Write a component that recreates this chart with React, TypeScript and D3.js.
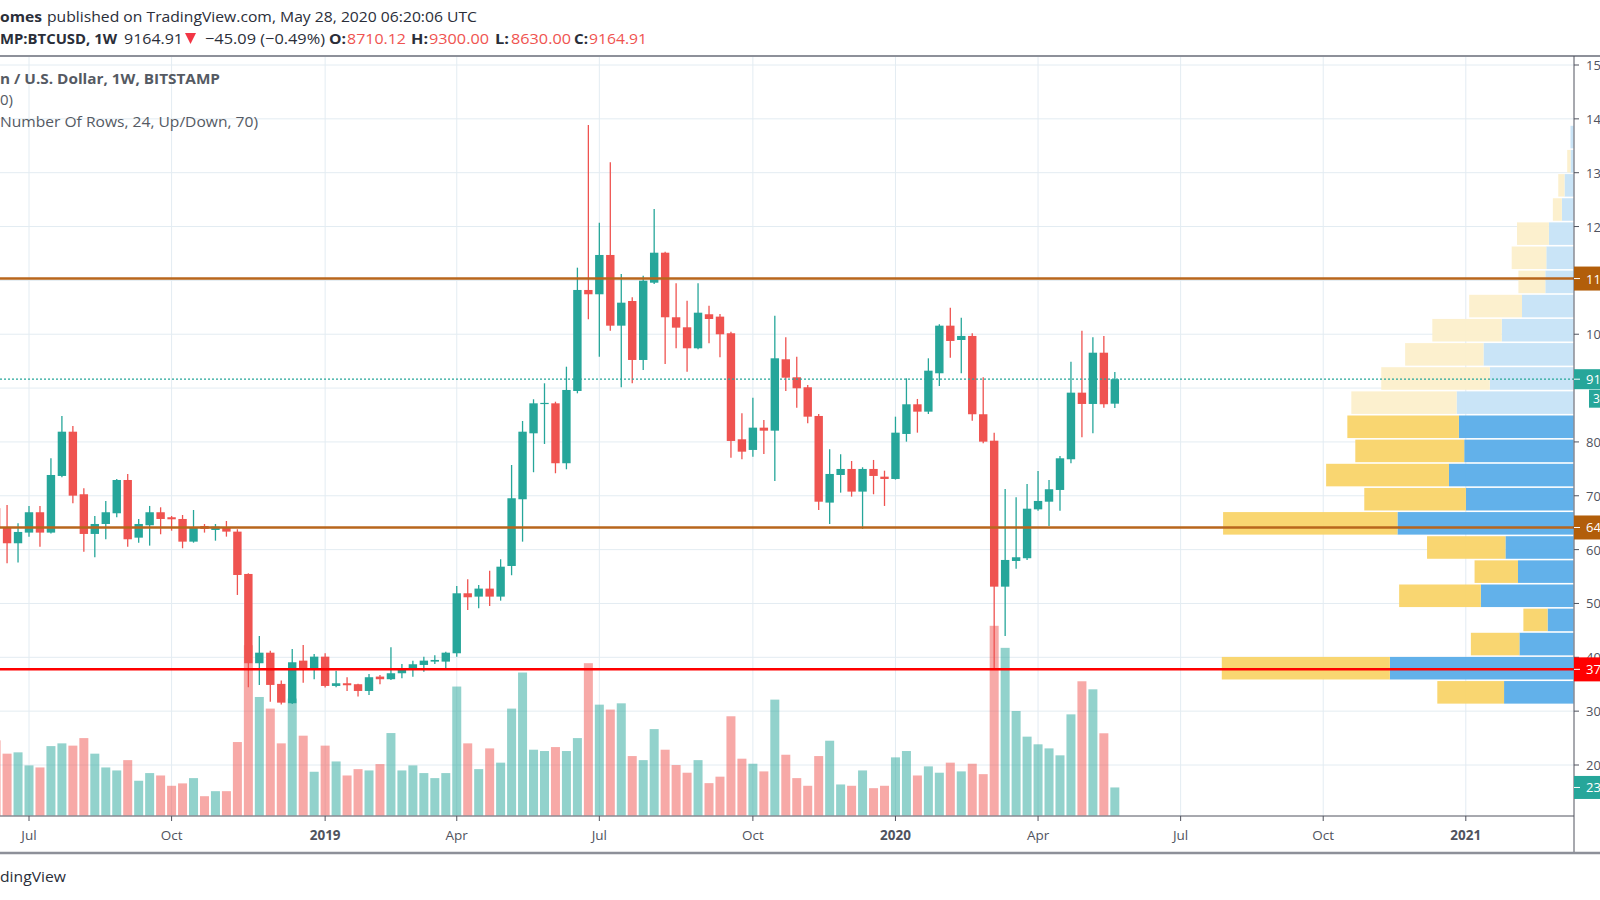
import React from 'react';
import * as d3 from 'd3';

// ---------- DATA ----------
const FIRST_WEEK = Date.UTC(2018, 5, 11); // Monday of first visible weekly bar

const opens = [
  6770, 6410, 6118, 6316, 6694, 6316, 7368, 8190, 7028, 6291, 6476, 6675, 7293, 6222, 6452, 6694,
  6601, 6569, 6148, 6439, 6365, 6408, 6334, 5548, 3890, 4086, 3506, 3147, 3938, 3797, 4012, 3468,
  3518, 3500, 3375, 3642, 3593, 3704, 3765, 3858, 3920, 3920, 4075, 5189, 5127, 5276, 5127, 5696,
  6935, 8160, 8705, 8717, 7604, 8946, 10822, 10742, 11472, 10159, 10617, 9522, 10957, 11514, 10315, 10129,
  9739, 10371, 10327, 10018, 8049, 7851, 8265, 8209, 9535, 9200, 9015, 8482, 6873, 7386, 7498, 7077,
  7498, 7355, 7312, 8148, 8699, 8562, 9275, 10159, 9893, 9968, 8514, 8023, 5312, 5789, 5840, 6748,
  6890, 7108, 7678, 8915, 8705, 9657, 8710.12,
];
const highs = [
  6850, 6829, 6489, 6811, 6811, 7696, 8482, 8296, 7139, 6625, 6904, 7312, 7405, 6569, 6811, 6786,
  6625, 6643, 6736, 6476, 6476, 6532, 6378, 5560, 4397, 4124, 3567, 4155, 4229, 4062, 4075, 3752,
  3630, 3510, 3691, 3672, 4187, 3877, 3938, 4012, 4038, 4105, 5325, 5450, 5344, 5609, 5821, 7572,
  8389, 8792, 9089, 8747, 9397, 11236, 13886, 12072, 13193, 11119, 10686, 11087, 12326, 11533, 10946, 10623,
  10946, 10530, 10376, 10047, 8532, 8822, 8408, 10345, 9943, 9583, 9058, 8519, 7864, 7771, 7646, 7529,
  7665, 7466, 8469, 9182, 8798, 9553, 10185, 10493, 10307, 10018, 9201, 8172, 7126, 6972, 7219, 7461,
  7293, 7739, 9490, 10066, 9943, 9968, 9300,
];
const lows = [
  6300, 5747, 5760, 6241, 6055, 6300, 7344, 6861, 5962, 5858, 6192, 6601, 6055, 6129, 6074, 6285,
  6352, 6025, 6129, 6316, 6166, 6241, 5158, 3444, 3487, 3176, 3125, 3134, 3529, 3593, 3437, 3444,
  3375, 3270, 3301, 3500, 3580, 3611, 3641, 3734, 3877, 3796, 4012, 4879, 4911, 4954, 5052, 5524,
  6148, 7437, 7962, 7418, 7492, 8903, 10278, 9583, 10066, 9015, 9089, 9336, 10933, 9448, 9739, 9305,
  9720, 9832, 9572, 7708, 7678, 7726, 7776, 7275, 8946, 8636, 8346, 6736, 6476, 7058, 6984, 6383,
  7028, 6811, 7300, 8005, 8172, 8519, 9039, 9565, 9275, 8395, 7975, 3800, 4397, 5646, 5808, 6723,
  6439, 6723, 7604, 8087, 8161, 8636, 8630,
];
const closes = [
  6420, 6118, 6328, 6694, 6316, 7386, 8190, 7002, 6291, 6476, 6694, 7293, 6192, 6476, 6694, 6569,
  6563, 6148, 6408, 6384, 6427, 6334, 5529, 3890, 4086, 3487, 3158, 3908, 3778, 4012, 3468, 3518,
  3481, 3375, 3630, 3593, 3704, 3778, 3871, 3938, 3951, 4086, 5189, 5115, 5276, 5127, 5683, 6954,
  8190, 8717, 8725, 7604, 8965, 10822, 10742, 11472, 10159, 10586, 9522, 10994, 11514, 10315, 10122, 9739,
  10400, 10283, 9999, 8018, 7819, 8265, 8209, 9553, 9193, 8996, 8469, 6890, 7405, 7498, 7077, 7498,
  7368, 7312, 8172, 8699, 8562, 9323, 10159, 9875, 9968, 8514, 8005, 5312, 5808, 5858, 6760, 6904,
  7121, 7696, 8915, 8705, 9657, 8700, 9164.91,
];
// weekly volume, thousands of BTC
const volumes = [
  62.7, 51.6, 52.7, 41.8, 40.1, 57.9, 60.2, 58.3, 64.6, 51.6, 40.1, 37.6, 46.2, 29.0, 35.4, 33.4,
  24.8, 26.8, 31.2, 16.1, 20.3, 20.3, 61.3, 142.1, 98.9, 89.2, 60.2, 97.6, 66.6, 36.5, 58.3, 45.1,
  33.4, 38.7, 37.6, 42.9, 68.8, 37.6, 41.8, 35.4, 31.2, 35.4, 107.6, 60.2, 38.7, 56.0, 44.1, 89.2,
  119.3, 54.9, 53.8, 57.1, 53.8, 64.6, 127.1, 92.5, 88.4, 93.6, 49.6, 46.2, 72.1, 54.9, 42.1, 35.7,
  46.2, 27.0, 32.4, 82.8, 47.4, 43.2, 36.8, 96.7, 50.7, 31.2, 24.8, 49.6, 62.4, 25.9, 24.8, 37.6,
  22.8, 24.8, 48.5, 53.8, 33.4, 41.0, 35.7, 44.1, 36.8, 43.2, 34.5, 158.3, 139.9, 87.2, 65.8, 59.4,
  56.0, 50.2, 84.4, 112.0, 105.3, 68.6, 23.4,
];

// Volume profile (24 rows, bottom -> top)
const vpUp = [69.7, 184.3, 54.3, 26, 93, 55.7, 68.3, 176.7, 108, 125, 109.7, 115, 117.3, 84, 90.3, 72, 51.7, 28.3, 27.3, 24.7, 11.7, 9, 3, 3];
const vpDown = [67, 168.7, 48.7, 24.3, 82, 43.6, 78.7, 175, 102, 123.3, 109.3, 112, 105.7, 109, 78.7, 69.7, 53, 27, 34.7, 32, 9, 6.3, 3.3, 0];
const VP_ROWS = 24;
const VA_FIRST_ROW = 0;
const VA_LAST_ROW = 11;

const priceTicks = [2000, 3000, 4000, 5000, 6000, 7000, 8000, 9000, 10000, 11000, 12000, 13000, 14000, 15000];
const timeTickMonths = [[2018, 6], [2018, 9], [2019, 0], [2019, 3], [2019, 6], [2019, 9], [2020, 0], [2020, 3], [2020, 6], [2020, 9], [2021, 0]];
const timeTickLabels = ['Jul', 'Oct', '2019', 'Apr', 'Jul', 'Oct', '2020', 'Apr', 'Jul', 'Oct', '2021'];

const resistance = 11034;
const support = 6411;
const bottomLevel = 3776;
const lastPrice = 9164.91;

// ---------- STYLE ----------
const UP = '#26a69a';
const DOWN = '#ef5350';
const VOL_UP = 'rgba(38,166,154,0.5)';
const VOL_DOWN = 'rgba(239,83,80,0.5)';
const GRID = '#e3ecf2';
const AXIS_TEXT = '#50535e';
const ORANGE = '#b8661c';
const ORANGE_LABEL = '#b25e0a';
const FONT = "'Open Sans', 'Noto Sans', sans-serif";

const W = 1600;
const H = 900;
const PANE_TOP = 57;
const PANE_BOTTOM = 816;
const AXIS_X = 1574;

export default function App() {
  const dates = opens.map((_, i) => new Date(FIRST_WEEK + i * 7 * 86400000));
  const x = d3
    .scaleUtc()
    .domain([new Date(Date.UTC(2019, 11, 30)), new Date(Date.UTC(2021, 0, 4))])
    .range([884.5, 1465.8]);
  const y = d3.scaleLinear().domain([2000, 15000]).range([765, 65]);
  const vMax = d3.max(volumes) as number;
  const yv = d3.scaleLinear().domain([0, vMax]).range([815.5, 625.8]);

  const bodyW = 8.4;
  const volW = 9;

  const candles = dates.map((d, i) => ({
    d,
    o: opens[i],
    h: highs[i],
    l: lows[i],
    c: closes[i],
    v: volumes[i],
    up: closes[i] >= opens[i],
  }));

  const timeTicks = timeTickMonths.map(([yy, mm], i) => ({
    x: x(d3.utcMonday.ceil(new Date(Date.UTC(yy, mm, 1)))),
    label: timeTickLabels[i],
    bold: mm === 0,
  }));

  // volume profile geometry
  const vpLow = d3.min(lows) as number;
  const vpHigh = d3.max(highs) as number;
  const rowSize = (vpHigh - vpLow) / VP_ROWS;
  const totals = vpUp.map((u, i) => u + vpDown[i]);
  const wScale = d3.scaleLinear().domain([0, d3.max(totals) as number]).range([0, 351.7]);
  const vpRight = 1573.5;

  const fmt = d3.format('.2f');

  // axis labels fully hidden under the level/price labels are not drawn
  const coveredBy = [resistance, lastPrice];
  const visibleTicks = priceTicks.filter((p) => coveredBy.every((c) => Math.abs(y(p) - y(c)) > 10));

  const priceLabel = (price: number, fill: string, text: string, h = 24) => {
    const cy = y(price);
    return (
      <g>
        <rect x={AXIS_X} y={cy - h / 2} width={40} height={h} fill={fill} />
        <line x1={AXIS_X} x2={AXIS_X + 6} y1={cy} y2={cy} stroke="#fff" strokeWidth={1} />
        <text x={1586} y={cy} dominantBaseline="central" fontSize={13} fill="#fff" fontFamily={FONT}>
          {text}
        </text>
      </g>
    );
  };

  const lastVol = volumes[volumes.length - 1];

  return (
    <div style={{ position: 'absolute', left: 0, top: 0, width: W, height: H, background: '#fff' }}>
      <svg width={W} height={H} style={{ display: 'block' }} fontFamily={FONT}>
        <defs>
          <clipPath id="pane">
            <rect x={0} y={PANE_TOP} width={AXIS_X} height={PANE_BOTTOM - PANE_TOP} />
          </clipPath>
        </defs>
        <rect x={0} y={0} width={W} height={H} fill="#fff" />

        {/* header */}
        <text x={0} y={16} dominantBaseline="central" fontSize={15} fill="#2a2e39" fontWeight="bold" textLength={42} lengthAdjust="spacingAndGlyphs">omes</text>
        <text x={47} y={16} dominantBaseline="central" fontSize={15} fill="#2a2e39" textLength={430} lengthAdjust="spacingAndGlyphs">
          published on TradingView.com, May 28, 2020 06:20:06 UTC
        </text>
        <text x={0} y={38} dominantBaseline="central" fontSize={15} fill="#2a2e39" fontWeight="bold" textLength={117} lengthAdjust="spacingAndGlyphs">MP:BTCUSD, 1W</text>
        <text x={124} y={38} dominantBaseline="central" fontSize={15} fill="#2a2e39" textLength={59} lengthAdjust="spacingAndGlyphs">9164.91</text>
        <path d="M185,33 L196,33 L190.5,44 Z" fill="#f23645" />
        <text x={205} y={38} dominantBaseline="central" fontSize={15} fill="#2a2e39" textLength={120} lengthAdjust="spacingAndGlyphs">−45.09 (−0.49%)</text>
        <text x={329} y={38} dominantBaseline="central" fontSize={15} fill="#2a2e39" fontWeight="bold" textLength={17} lengthAdjust="spacingAndGlyphs">O:</text>
        <text x={347} y={38} dominantBaseline="central" fontSize={15} fill={DOWN} textLength={59} lengthAdjust="spacingAndGlyphs">8710.12</text>
        <text x={411} y={38} dominantBaseline="central" fontSize={15} fill="#2a2e39" fontWeight="bold" textLength={17} lengthAdjust="spacingAndGlyphs">H:</text>
        <text x={429} y={38} dominantBaseline="central" fontSize={15} fill={DOWN} textLength={60} lengthAdjust="spacingAndGlyphs">9300.00</text>
        <text x={495} y={38} dominantBaseline="central" fontSize={15} fill="#2a2e39" fontWeight="bold" textLength={14} lengthAdjust="spacingAndGlyphs">L:</text>
        <text x={511} y={38} dominantBaseline="central" fontSize={15} fill={DOWN} textLength={60} lengthAdjust="spacingAndGlyphs">8630.00</text>
        <text x={574} y={38} dominantBaseline="central" fontSize={15} fill="#2a2e39" fontWeight="bold" textLength={14} lengthAdjust="spacingAndGlyphs">C:</text>
        <text x={589} y={38} dominantBaseline="central" fontSize={15} fill={DOWN} textLength={58} lengthAdjust="spacingAndGlyphs">9164.91</text>

        <line x1={0} x2={W} y1={56} y2={56} stroke="#8d9099" strokeWidth={2} />

        {/* grid */}
        <g clipPath="url(#pane)">
          {priceTicks.map((p) => (
            <line key={'h' + p} x1={0} x2={AXIS_X} y1={y(p)} y2={y(p)} stroke={GRID} strokeWidth={1} />
          ))}
          {timeTicks.map((t, i) => (
            <line key={'v' + i} x1={t.x} x2={t.x} y1={PANE_TOP} y2={PANE_BOTTOM} stroke={GRID} strokeWidth={1} />
          ))}
        </g>

        <g clipPath="url(#pane)">
          {/* volume */}
          {candles.map((c, i) => (
            <rect
              key={'vol' + i}
              x={x(c.d) - volW / 2}
              y={yv(c.v)}
              width={volW}
              height={yv(0) - yv(c.v)}
              fill={c.up ? VOL_UP : VOL_DOWN}
            />
          ))}

          {/* volume profile */}
          {vpUp.map((u, r) => {
            const y0 = y(vpLow + (r + 1) * rowSize);
            const y1 = y(vpLow + r * rowSize);
            const inVA = r >= VA_FIRST_ROW && r <= VA_LAST_ROW;
            const upW = wScale(u);
            const dnW = wScale(vpDown[r]);
            return (
              <g key={'vp' + r}>
                <rect x={vpRight - upW} y={y0 + 0.8} width={upW} height={y1 - y0 - 1.6} fill={inVA ? '#5aade9' : '#c6e3f7'} opacity={0.95} />
                <rect x={vpRight - upW - dnW} y={y0 + 0.8} width={dnW} height={y1 - y0 - 1.6} fill={inVA ? '#f9d469' : '#fcefcb'} opacity={0.95} />
              </g>
            );
          })}

          {/* candles */}
          {candles.map((c, i) => {
            const cx = x(c.d);
            const col = c.up ? UP : DOWN;
            const top = y(Math.max(c.o, c.c));
            const bot = y(Math.min(c.o, c.c));
            return (
              <g key={'c' + i}>
                <line x1={cx} x2={cx} y1={y(c.h)} y2={y(c.l)} stroke={col} strokeWidth={1.3} />
                <rect x={cx - bodyW / 2} y={top} width={bodyW} height={Math.max(1.2, bot - top)} fill={col} />
              </g>
            );
          })}

          {/* horizontal levels */}
          <line x1={0} x2={AXIS_X} y1={y(resistance)} y2={y(resistance)} stroke={ORANGE} strokeWidth={2.5} />
          <line x1={0} x2={AXIS_X} y1={y(support)} y2={y(support)} stroke={ORANGE} strokeWidth={2.5} />
          <line x1={0} x2={AXIS_X} y1={y(bottomLevel)} y2={y(bottomLevel)} stroke="#ff0000" strokeWidth={2.5} />
          <line x1={0} x2={AXIS_X} y1={y(lastPrice)} y2={y(lastPrice)} stroke={UP} strokeWidth={1.2} strokeDasharray="2,2" />
        </g>

        {/* legend */}
        <text x={0} y={77.5} dominantBaseline="central" fontSize={15} fill="#555a63" fontWeight="bold" textLength={220} lengthAdjust="spacingAndGlyphs">
          n / U.S. Dollar, 1W, BITSTAMP
        </text>
        <text x={0} y={99} dominantBaseline="central" fontSize={15} fill="#555a63">0)</text>
        <text x={0} y={121} dominantBaseline="central" fontSize={15} fill="#555a63" textLength={258} lengthAdjust="spacingAndGlyphs">
          Number Of Rows, 24, Up/Down, 70)
        </text>

        {/* time axis */}
        <line x1={0} x2={AXIS_X} y1={PANE_BOTTOM} y2={PANE_BOTTOM} stroke="#50535e" strokeWidth={1} />
        {timeTicks.map((t, i) => (
          <g key={'tt' + i}>
            <line x1={t.x} x2={t.x} y1={PANE_BOTTOM} y2={PANE_BOTTOM + 5} stroke="#50535e" strokeWidth={1} />
            <text x={t.x} y={835} textAnchor="middle" dominantBaseline="central" fontSize={13.5} fill={AXIS_TEXT} fontWeight={t.bold ? 'bold' : 'normal'}>
              {t.label}
            </text>
          </g>
        ))}

        {/* price axis */}
        <line x1={AXIS_X} x2={AXIS_X} y1={PANE_TOP - 1} y2={853} stroke="#50535e" strokeWidth={1} />
        {priceTicks.map((p) => (
          <line key={'ptm' + p} x1={AXIS_X} x2={AXIS_X + 5} y1={y(p)} y2={y(p)} stroke="#50535e" strokeWidth={1} />
        ))}
        {visibleTicks.map((p) => (
          <text key={'pt' + p} x={1586} y={y(p)} dominantBaseline="central" fontSize={13} fill={AXIS_TEXT}>
            {fmt(p)}
          </text>
        ))}
        {priceLabel(resistance, ORANGE_LABEL, fmt(resistance))}
        {priceLabel(lastPrice, UP, fmt(lastPrice), 20)}
        <rect x={1589} y={y(lastPrice) + 10.5} width={30} height={18} fill={UP} />
        <text x={1593} y={y(lastPrice) + 19.5} dominantBaseline="central" fontSize={12} fill="#fff">3d 17h</text>
        {priceLabel(support, ORANGE_LABEL, fmt(support))}
        {priceLabel(bottomLevel, '#ff0000', fmt(bottomLevel))}
        <g>
          <rect x={AXIS_X} y={yv(lastVol) - 11.5} width={40} height={23} fill={UP} />
          <line x1={AXIS_X} x2={AXIS_X + 6} y1={yv(lastVol)} y2={yv(lastVol)} stroke="#fff" />
          <text x={1586} y={yv(lastVol)} dominantBaseline="central" fontSize={13} fill="#fff">
            {d3.format('.1f')(lastVol)}K
          </text>
        </g>

        <line x1={0} x2={W} y1={853} y2={853} stroke="#8d9099" strokeWidth={2.5} />

        <text x={0} y={876} dominantBaseline="central" fontSize={15} fill="#2a2e39" textLength={66} lengthAdjust="spacingAndGlyphs">dingView</text>
      </svg>
    </div>
  );
}
